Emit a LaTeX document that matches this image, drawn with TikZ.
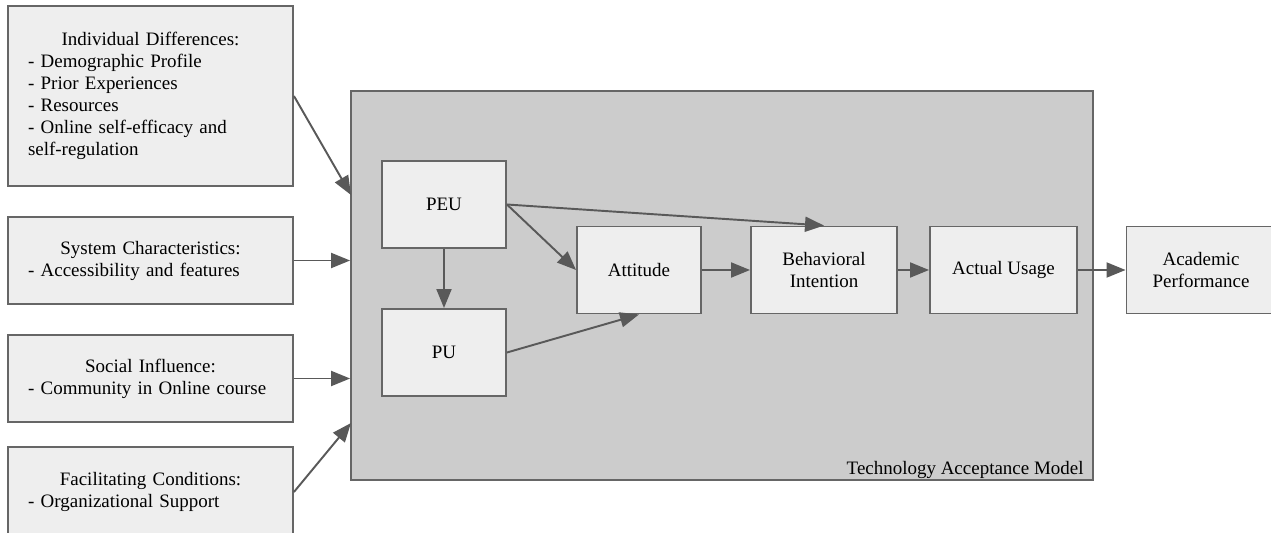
\documentclass[tikz,border=0pt]{standalone}
\usepackage{fontspec}
\setmainfont{Liberation Serif}
\usetikzlibrary{arrows.meta}
\setlength{\parindent}{0pt}
\definecolor{boxfill}{HTML}{EEEEEE}
\definecolor{tamfill}{HTML}{CCCCCC}
\definecolor{boxline}{HTML}{666666}
\definecolor{arrowgray}{HTML}{595959}
\newcommand{\factortitle}[1]{\makebox[\hsize]{#1}}
\tikzset{
	txt/.style={font=\fontsize{10.8pt}{12.5pt}\selectfont},
	factor/.style={txt, draw=boxline, fill=boxfill, line width=1.1pt, minimum width=5.7cm, text width=4.9cm, inner xsep=0.4cm, align=left},
	tamitem/.style={txt, draw=boxline, fill=boxfill, line width=1.1pt, minimum height=1.74cm, align=center},
	flow/.style={draw=arrowgray, line width=1.1pt, -{Triangle[length=0.38cm, width=0.3cm]}}
}
\begin{document}
\begin{tikzpicture}[x=0.02cm, y=-0.02cm]
	\useasboundingbox (0,0) rectangle (1271,533);
	\clip (0,0) rectangle (1271,533);
	% Einflussfaktoren links
	\node[factor, minimum height=3.6cm] (ind) at (150.5,96) {\factortitle{Individual Differences:}\\- Demographic Profile\\- Prior Experiences\\- Resources\\- Online self-efficacy and\\self-regulation};
	\node[factor, minimum height=1.74cm] (sys) at (150.5,260.5) {\factortitle{System Characteristics:}\\- Accessibility and features};
	\node[factor, minimum height=1.74cm] (soc) at (150.5,378.5) {\factortitle{Social Influence:}\\- Community in Online course};
	\node[factor, minimum height=1.8cm] (fac) at (150.5,492) {\factortitle{Facilitating Conditions:}\\- Organizational Support};
	% TAM
	\node[draw=boxline, fill=tamfill, line width=1.1pt, minimum width=14.84cm, minimum height=7.78cm] (tam) at (722,285.5) {};
	\node[txt, anchor=base east, inner sep=0pt] (tamlabel) at ([xshift=-0.2cm, yshift=0.12cm]tam.south east) {Technology Acceptance Model};
	\node[tamitem, minimum width=2.48cm] (peu) at (444,204.5) {PEU};
	\node[tamitem, minimum width=2.48cm] (pu) at (444,352.5) {PU};
	\node[tamitem, minimum width=2.48cm] (att) at (639,270) {Attitude};
	\node[tamitem, minimum width=2.92cm] (bi) at (824,270) {Behavioral\\Intention};
	\node[tamitem, minimum width=2.94cm] (au) at (1003.5,270) {Actual Usage};
	% Ergebnis
	\node[tamitem, minimum width=2.98cm] (ap) at (1201,270) {Academic\\Performance};
	% Pfeile
	\coordinate (in1) at (351,195);
	\coordinate (in4) at (351,423);
	\draw[flow] (ind.east) -- (in1);
	\draw[flow] (sys.east) -- (sys.east -| tam.west);
	\draw[flow] (soc.east) -- (soc.east -| tam.west);
	\draw[flow] (fac.east) -- (in4);
	\draw[flow] (peu) -- (pu);
	\draw[flow] (peu.east) -- (att.west);
	\draw[flow] (peu.east) -- (bi.north);
	\draw[flow] (pu.east) -- (att.south);
	\draw[flow] (att) -- (bi);
	\draw[flow] (bi) -- (au);
	\draw[flow] (au) -- (ap);
\end{tikzpicture}
\end{document}
